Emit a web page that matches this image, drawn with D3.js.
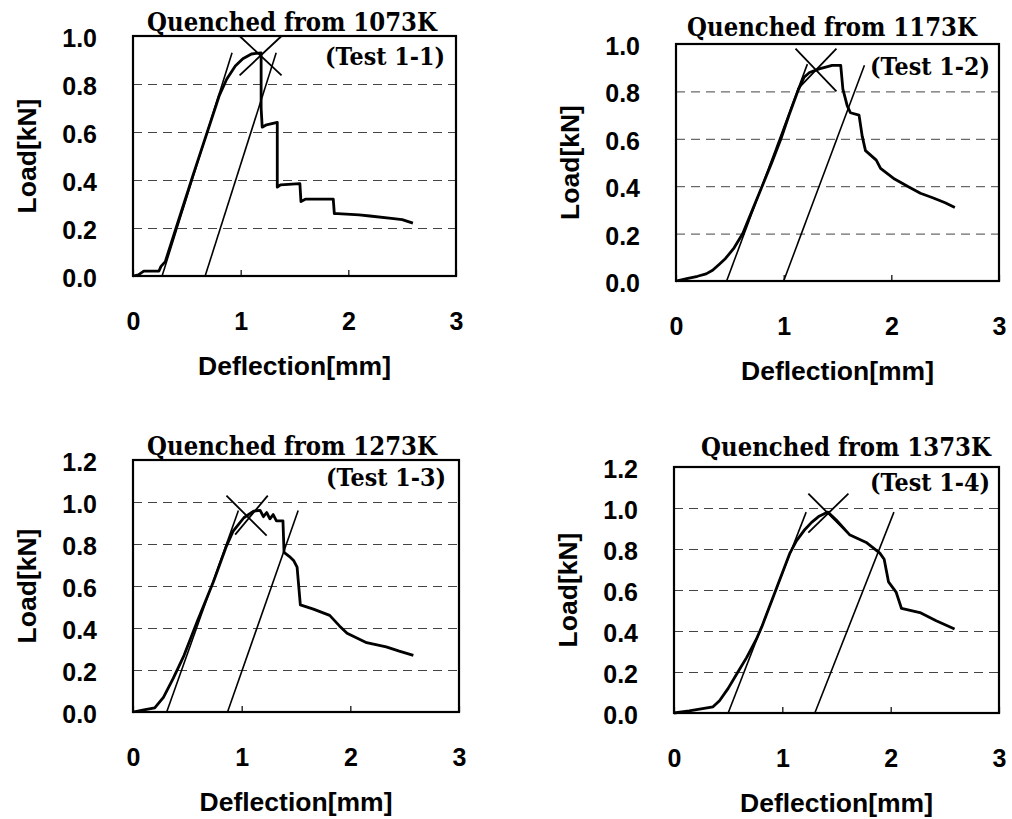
<!DOCTYPE html>
<html>
<head>
<meta charset="utf-8">
<script src="https://cdn.jsdelivr.net/npm/d3@7"></script>
<style>
  body { margin: 0; background: #fff; }
  svg { display: block; }
  .tick text { font-family: "Liberation Sans", Arial, sans-serif; font-weight: bold; font-size: 25px; fill: #000; }
  .axis-title { font-family: "Liberation Sans", Arial, sans-serif; font-weight: bold; font-size: 26px; fill: #000; }
  .title { font-family: "DejaVu Serif", serif; font-weight: bold; font-size: 26px; fill: #000; }
  .test { font-family: "DejaVu Serif", serif; font-weight: bold; font-size: 24px; fill: #000; }
</style>
</head>
<body>
<div id="chart"></div>
<script>
// ---- data ----
var xTicks = [0, 1, 2, 3];
var yTicksA = [0, 0.2, 0.4, 0.6, 0.8, 1.0];
var yTicksB = [0, 0.2, 0.4, 0.6, 0.8, 1.0, 1.2];
var titles = ["Quenched from 1073K", "Quenched from 1173K", "Quenched from 1273K", "Quenched from 1373K"];
var testLabels = ["(Test 1-1)", "(Test 1-2)", "(Test 1-3)", "(Test 1-4)"];
var xLabel = "Deflection[mm]";
var yLabel = "Load[kN]";

// deflection [mm], load [kN]
var curve1 = [[0,0],[0.05,0.005],[0.1,0.02],[0.24,0.02],[0.26,0.04],[0.3,0.06],[0.4,0.2],[0.55,0.41],
  [0.69,0.6],[0.8,0.75],[0.87,0.82],[0.95,0.875],[1.02,0.905],[1.1,0.925],[1.19,0.93],
  [1.19,0.70],[1.2,0.62],[1.24,0.63],[1.34,0.64],[1.34,0.37],[1.37,0.38],[1.55,0.385],
  [1.56,0.31],[1.6,0.32],[1.86,0.32],[1.87,0.26],[1.9,0.26],[2.1,0.255],[2.2,0.25],
  [2.4,0.24],[2.5,0.235],[2.6,0.22]];
var tangentA1 = [[0.27,0],[0.92,0.93]];
var tangentB1 = [[0.67,0],[1.33,0.93]];
var crossA1 = [[0.99,1.0],[1.38,0.836]];
var crossB1 = [[0.99,0.836],[1.38,1.0]];

var curve2 = [[0,0],[0.1,0.01],[0.2,0.02],[0.28,0.03],[0.34,0.045],[0.4,0.07],[0.46,0.095],[0.54,0.14],[0.62,0.2],
  [0.71,0.3],[0.8,0.4],[0.89,0.5],[0.975,0.6],[1.05,0.7],[1.13,0.8],[1.19,0.86],[1.24,0.88],
  [1.33,0.895],[1.45,0.91],[1.53,0.91],[1.55,0.81],[1.59,0.74],[1.62,0.71],[1.7,0.70],
  [1.73,0.61],[1.76,0.55],[1.86,0.51],[1.9,0.475],[2.03,0.43],[2.15,0.4],[2.27,0.37],
  [2.39,0.35],[2.5,0.33],[2.59,0.31]];
var tangentA2 = [[0.47,0],[1.22,0.915]];
var tangentB2 = [[1.0,0],[1.75,0.91]];
var crossA2 = [[1.11,0.98],[1.49,0.80]];
var crossB2 = [[1.13,0.81],[1.49,0.98]];

var curve3 = [[0,0],[0.1,0.01],[0.2,0.02],[0.28,0.07],[0.37,0.16],[0.47,0.27],[0.59,0.43],[0.74,0.62],
  [0.86,0.79],[0.92,0.86],[1.02,0.925],[1.11,0.957],[1.17,0.96],[1.2,0.93],[1.23,0.95],
  [1.26,0.92],[1.29,0.94],[1.32,0.91],[1.38,0.91],[1.39,0.76],[1.44,0.74],[1.48,0.72],
  [1.51,0.69],[1.54,0.51],[1.66,0.49],[1.81,0.46],[1.9,0.41],[1.97,0.375],[2.15,0.33],
  [2.33,0.31],[2.45,0.29],[2.58,0.27]];
var tangentA3 = [[0.31,0],[0.97,0.96]];
var tangentB3 = [[0.87,0],[1.52,0.96]];
var crossA3 = [[0.86,1.03],[1.23,0.84]];
var crossB3 = [[0.94,0.845],[1.24,1.03]];

var curve4 = [[0,0],[0.14,0.01],[0.36,0.03],[0.42,0.06],[0.5,0.12],[0.59,0.2],[0.67,0.27],[0.76,0.36],
  [0.81,0.42],[0.94,0.6],[1.07,0.78],[1.13,0.84],[1.2,0.89],[1.27,0.93],[1.34,0.96],
  [1.42,0.98],[1.5,0.94],[1.62,0.87],[1.78,0.83],[1.9,0.78],[1.94,0.75],[1.98,0.64],
  [2.05,0.59],[2.1,0.51],[2.27,0.49],[2.42,0.45],[2.59,0.41]];
var tangentA4 = [[0.5,0],[1.22,0.98]];
var tangentB4 = [[1.3,0],[2.03,0.98]];
var crossA4 = [[1.24,1.07],[1.6,0.88]];
var crossB4 = [[1.24,0.88],[1.61,1.07]];

var curves = [curve1, curve2, curve3, curve4];
var tangents = [[tangentA1, tangentB1], [tangentA2, tangentB2], [tangentA3, tangentB3], [tangentA4, tangentB4]];
var crosses = [[crossA1, crossB1], [crossA2, crossB2], [crossA3, crossB3], [crossA4, crossB4]];
var yTickSets = [yTicksA, yTicksA, yTicksB, yTicksB];

// ---- layout ----
var panels = [
  { left: 133, right: 456, top: 36,  bottom: 276, ymax: 1.0, titleX: 292, titleY: 31,  testX: 385, testY: 65 },
  { left: 676, right: 999, top: 44,  bottom: 281, ymax: 1.0, titleX: 832, titleY: 36,  testX: 930, testY: 75 },
  { left: 133, right: 459, top: 460, bottom: 712, ymax: 1.2, titleX: 292, titleY: 455, testX: 386, testY: 486 },
  { left: 674, right: 999, top: 467, bottom: 713, ymax: 1.2, titleX: 846, titleY: 456, testX: 930, testY: 491 }
];

var svg = d3.select("#chart").append("svg")
    .attr("width", 1012)
    .attr("height", 819);

// centred text squeezed/stretched horizontally to a target width
function fitText(cls, str, cx, cy, width, angle) {
    var t = svg.append("text").attr("class", cls).attr("text-anchor", "middle").text(str);
    var s = width / t.node().getComputedTextLength();
    t.attr("transform", "translate(" + cx + "," + cy + ")" + (angle ? " rotate(" + angle + ")" : "") + " scale(" + s + ",1)");
    return t;
}

panels.forEach(function(p, i) {
    var w = p.right - p.left, h = p.bottom - p.top;
    var x = d3.scaleLinear().domain([0, 3]).range([0, w]);
    var y = d3.scaleLinear().domain([0, p.ymax]).range([h, 0]);
    var g = svg.append("g").attr("transform", "translate(" + p.left + "," + p.top + ")");

    // grid + y tick labels
    var yAxis = g.append("g")
        .call(d3.axisLeft(y).tickValues(yTickSets[i]).tickSize(-w).tickPadding(36).tickFormat(d3.format(".1f")));
    yAxis.select(".domain").remove();
    yAxis.selectAll(".tick line")
        .attr("stroke", "#444")
        .attr("stroke-width", 1)
        .attr("stroke-dasharray", "9,6")
        .filter(function(d) { return d === 0 || d === p.ymax; }).remove();
    yAxis.selectAll(".tick text").attr("dy", "0.42em");

    // x axis: small inner ticks, labels well below
    var xAxis = g.append("g")
        .attr("transform", "translate(0," + h + ")")
        .call(d3.axisBottom(x).tickValues(xTicks).tickSize(-6).tickPadding(36).tickFormat(d3.format("d")));
    xAxis.select(".domain").remove();
    xAxis.selectAll(".tick line").attr("stroke", "#000").attr("stroke-width", 1.2);

    // frame
    g.append("rect")
        .attr("width", w).attr("height", h)
        .attr("fill", "none").attr("stroke", "#000").attr("stroke-width", 2.2);

    var line = d3.line().x(function(d) { return x(d[0]); }).y(function(d) { return y(d[1]); });

    tangents[i].forEach(function(t) {
        g.append("path").datum(t).attr("d", line)
            .attr("fill", "none").attr("stroke", "#000").attr("stroke-width", 1.6);
    });
    crosses[i].forEach(function(t) {
        g.append("path").datum(t).attr("d", line)
            .attr("fill", "none").attr("stroke", "#000").attr("stroke-width", 1.8);
    });
    g.append("path").datum(curves[i]).attr("d", line)
        .attr("fill", "none").attr("stroke", "#000").attr("stroke-width", 2.8)
        .attr("stroke-linejoin", "round");

    // texts
    fitText("title", titles[i], p.titleX, p.titleY, 290);
    fitText("test", testLabels[i], p.testX, p.testY, 120);
    fitText("axis-title", xLabel, p.left + w / 2, p.bottom + 99, 193);
    fitText("axis-title", yLabel, p.left - 97, p.top + h / 2, 115, -90);
});
</script>
</body>
</html>
